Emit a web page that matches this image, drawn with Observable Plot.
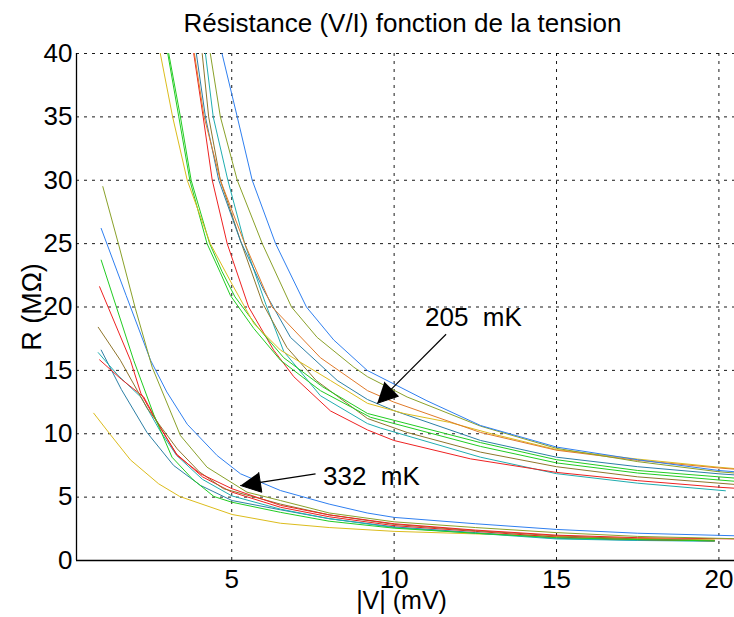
<!DOCTYPE html>
<html>
<head>
<meta charset="utf-8">
<script src="https://cdn.jsdelivr.net/npm/d3@7"></script>
<script src="https://cdn.jsdelivr.net/npm/@observablehq/plot@0.6"></script>
<style>
  html, body { margin: 0; padding: 0; background: white; }
</style>
</head>
<body>
<div id="chart"></div>
<script>
// ---------- data (|V| in mV, R in MOhm) ----------
// 332 mK group
const r332_olive  = [[1.03,29.5],[1.52,24.9],[2.03,19.9],[2.55,15.25],[3.42,9.86],[4.24,7.36],[5.47,5.39],[6.5,4.73],[8,3.75],[10,3.05],[12.5,2.6],[15,2.2],[17.5,1.9],[20.5,1.72]];
const r332_blue   = [[0.98,26.2],[1.75,20.9],[2.5,15.8],[3.0,13.3],[3.63,10.75],[4.55,8.28],[5.01,7.36],[5.27,6.84],[6.5,5.52],[8,4.45],[9.17,3.75],[10,3.4],[12.5,2.9],[15,2.45],[17.5,2.15],[20.5,1.95]];
const r332_green  = [[0.98,23.7],[1.98,15.8],[2.6,11.5],[3.16,8.15],[3.8,6.4],[4.45,5.05],[5.0,4.6],[6.5,3.8],[8,3.1],[10,2.55],[12.5,2.15],[15,1.8],[17.5,1.65],[19.86,1.55]];
const r332_red    = [[0.93,21.6],[1.88,15.8],[2.2,13.2],[2.7,10.9],[3.32,8.28],[4.04,6.84],[5.01,5.66],[6.5,4.35],[8,3.6],[10,2.9],[12.5,2.4],[15,2.0],[17.5,1.8],[20.5,1.7]];
const r332_brown  = [[0.89,18.4],[1.57,15.8],[2.4,12.0],[3.32,8.81],[4.0,7.0],[4.75,5.66],[6.5,4.45],[8,3.6],[10,2.85],[12.5,2.35],[15,1.95],[17.5,1.7],[19.86,1.58]];
const r332_teal   = [[0.98,16.6],[1.6,13.5],[2.39,10.1],[3.21,7.5],[4.04,5.92],[5.01,4.73],[6.5,4.0],[8,3.3],[10,2.65],[12.5,2.2],[15,1.75],[17.5,1.6],[19.86,1.55]];
const r332_cyan   = [[0.89,16.4],[1.5,14.6],[2.2,12.9],[2.8,10.2],[3.3,8.3],[4.1,6.4],[5.0,5.1],[6.5,4.05],[8,3.3],[10,2.6],[12.5,2.15],[15,1.7],[17.5,1.58],[19.86,1.52]];
const r332_red2   = [[0.93,15.83],[1.6,14.3],[2.29,12.9],[2.8,10.5],[3.3,8.4],[4.1,6.6],[5.0,5.4],[6.5,4.2],[8,3.45],[10,2.75],[12.5,2.3],[15,1.85],[17.5,1.65],[19.86,1.55]];
const r332_yellow = [[0.75,11.62],[1.26,9.94],[1.88,7.94],[2.75,6.05],[3.40,5.05],[5.01,3.63],[6.5,2.94],[8,2.6],[10,2.3],[12.5,2.1],[15,1.9],[17.5,1.75],[19.86,1.62]];

// 205 mK group
const r205_blue   = [[4.70,40],[5.17,35],[5.63,30],[6.35,25],[7.3,20],[8.14,17.4],[9.17,15.0],[11.01,12.6],[12.66,10.65],[15,8.95],[17.5,7.95],[20,7.1],[20.5,7.0]];
const r205_olive  = [[4.34,40],[4.65,35],[5.17,30],[5.94,25],[6.84,20],[7.63,17.6],[8.76,15.25],[9.18,14.5],[10.4,12.9],[12.66,10.6],[15,8.85],[17.5,7.8],[20,7.0],[20.5,6.9]];
const r205_orange = [[3.85,40],[4.15,35],[4.65,30],[5.4,25],[6.24,20],[7.73,16.0],[9.18,13.4],[9.99,12.5],[12.66,10.1],[15,8.7],[17.5,7.9],[20,7.3],[20.5,7.2]];
const r205_yellow = [[2.80,40],[3.18,35],[3.63,30],[4.34,25],[5.01,21.8],[5.68,18.7],[6.5,16.6],[8.04,14.2],[9.18,12.4],[10.3,11.6],[11.7,10.9],[13,10.0],[15,8.75],[17.5,8.0],[20,7.36],[20.5,7.25]];
const r205_tealb  = [[3.91,40],[4.19,35],[4.60,30],[5.27,25.2],[5.99,21.3],[6.81,17.6],[8.25,14.2],[9.18,12.7],[9.99,11.83],[12.66,9.47],[15,8.15],[17.5,7.4],[20,6.84],[20.5,6.75]];
const r205_green1 = [[3.03,40],[3.37,35],[3.71,30],[4.24,25],[4.65,22.7],[4.96,20.9],[5.68,18.3],[6.5,15.8],[7.73,13.4],[9.27,11.3],[12.66,9.0],[15,7.7],[17.5,6.9],[20,6.35],[20.5,6.25]];
const r205_green2 = [[3.06,40],[3.42,35],[3.75,30],[4.32,25],[4.7,22.8],[5.1,20.8],[5.8,18.4],[6.6,16.0],[7.8,13.7],[9.18,11.6],[12.66,9.3],[15,7.95],[17.5,7.1],[20,6.6],[20.5,6.5]];
const r205_red    = [[3.83,40],[4.12,35],[4.40,30],[4.86,25],[5.52,20],[6.29,16.6],[6.91,14.5],[8.04,11.8],[9.18,10.3],[9.99,9.47],[12.35,8.02],[15,6.95],[17.5,6.3],[20,5.78],[20.5,5.7]];
const r205_cyan   = [[4.19,40],[4.43,35],[4.88,30],[5.4,25],[6.05,20.2],[6.6,16.5],[7.73,13.0],[9.18,10.8],[9.58,10.45],[12.66,8.15],[15,6.85],[17.5,6.1],[20.2,5.5]];
const r205_brown  = [[4.09,40],[4.29,35],[4.65,30],[5.3,25],[5.95,20.3],[6.7,16.8],[7.6,14.2],[9.18,11.2],[10.4,10.1],[12.66,8.55],[15,7.4],[17.5,6.6],[20,6.1],[20.5,6.0]];

// ticks & texts
const xTicks = [5, 10, 15, 20];
const yTicks = [0, 5, 10, 15, 20, 25, 30, 35, 40];
const titleText = "Résistance (V/I) fonction de la tension";
const xLabel = "|V| (mV)";
const yLabel = "R (MΩ)";
const annotLabels = ["205\u00a0\u00a0mK", "332\u00a0\u00a0mK"];
const annotX = [12.44, 9.30];
const annotY = [18.54, 5.92];
const arrowTipX = [9.48, 5.27];
const arrowTipY = [12.4, 5.92];
const arrowTailX = [11.6, 7.58];
const arrowTailY = [17.85, 6.84];

// ---------- styling ----------
const colors = {
  blue: "#2f7ff0", olive: "#8aa12a", green: "#22cc22", red: "#ee2222",
  brown: "#8f762c", teal: "#2c7fa6", cyan: "#20adb0", yellow: "#dcbc1c",
  orange: "#e07a2a"
};
const series = [
  [r332_yellow, colors.yellow], [r332_teal, colors.teal], [r332_cyan, colors.cyan],
  [r332_red2, colors.red], [r332_brown, colors.brown], [r332_red, colors.red],
  [r332_green, colors.green], [r332_blue, colors.blue], [r332_olive, colors.olive],
  [r205_cyan, colors.cyan], [r205_red, colors.red], [r205_brown, colors.brown],
  [r205_green1, colors.green], [r205_green2, colors.green], [r205_tealb, colors.teal],
  [r205_yellow, colors.yellow], [r205_orange, colors.orange], [r205_olive, colors.olive],
  [r205_blue, colors.blue]
];

const W = 734, H = 617, mL = 76, mR = 0, mT = 53, mB = 57;
const xDomain = [0.22, 20.48], yDomain = [0, 40];
const sx = Plot.scale({x: {domain: xDomain, range: [mL, W - mR]}});
const sy = Plot.scale({y: {domain: yDomain, range: [H - mB, mT]}});

// arrowheads (filled triangles) and shafts computed through the scales
const headLen = 20, headHalf = 10;
const heads = [], shafts = [];
arrowTipX.forEach((_, i) => {
  const tx = sx.apply(arrowTipX[i]), ty = sy.apply(arrowTipY[i]);
  const ax = sx.apply(arrowTailX[i]), ay = sy.apply(arrowTailY[i]);
  const len = Math.hypot(ax - tx, ay - ty);
  const ux = (ax - tx) / len, uy = (ay - ty) / len;
  const bx = tx + ux * headLen, by = ty + uy * headLen;
  const nx = -uy, ny = ux;
  const pts = [[tx, ty], [bx + nx * headHalf, by + ny * headHalf], [bx - nx * headHalf, by - ny * headHalf]];
  pts.forEach(p => heads.push({id: i, x: sx.invert(p[0]), y: sy.invert(p[1])}));
  shafts.push({x1: arrowTailX[i], y1: arrowTailY[i], x2: sx.invert(bx), y2: sy.invert(by)});
});

const lineMarks = series.map(([pts, c]) =>
  Plot.line(pts, {x: d => d[0], y: d => d[1], stroke: c, strokeWidth: 1, clip: true})
);

const chart = Plot.plot({
  width: W, height: H,
  marginLeft: mL, marginRight: mR, marginTop: mT, marginBottom: mB,
  x: {domain: xDomain},
  y: {domain: yDomain},
  style: {fontFamily: "'Liberation Sans', Arial, sans-serif", background: "white", overflow: "visible", color: "black"},
  marks: [
    Plot.gridX(xTicks, {stroke: "black", strokeOpacity: 0.9, strokeDasharray: "3,5"}),
    Plot.gridY(yTicks, {stroke: "black", strokeOpacity: 0.9, strokeDasharray: "3,5"}),
    ...lineMarks,
    Plot.ruleX([xDomain[0]], {stroke: "black", strokeWidth: 1.3}),
    Plot.ruleY([0], {stroke: "black", strokeWidth: 1.3}),
    Plot.axisX({ticks: xTicks, tickSize: 0, tickPadding: 9, fontSize: 26, label: null, tickFormat: d => String(d)}),
    Plot.axisY({ticks: yTicks, tickSize: 0, tickPadding: 4, fontSize: 26, label: null, tickFormat: d => String(d)}),
    Plot.link(shafts, {x1: "x1", y1: "y1", x2: "x2", y2: "y2", stroke: "black", strokeWidth: 1.2}),
    Plot.line(heads, {x: "x", y: "y", z: "id", fill: "black", stroke: "black", strokeWidth: 1}),
    Plot.text(annotLabels, {x: (d, i) => annotX[i], y: (d, i) => annotY[i], text: d => d, fontSize: 26, textAnchor: "middle", lineAnchor: "bottom", fill: "black"}),
    Plot.text([titleText], {frameAnchor: "top", dy: -30, dx: -3, fontSize: 26, fill: "black", lineAnchor: "middle"}),
    Plot.text([yLabel], {frameAnchor: "left", dx: -44, rotate: -90, fontSize: 27, fill: "black", lineAnchor: "middle", textAnchor: "middle"}),
    Plot.text([xLabel], {frameAnchor: "bottom", dy: 40, dx: -4, fontSize: 25, fill: "black", lineAnchor: "middle"})
  ]
});
document.getElementById("chart").appendChild(chart);
</script>
</body>
</html>
